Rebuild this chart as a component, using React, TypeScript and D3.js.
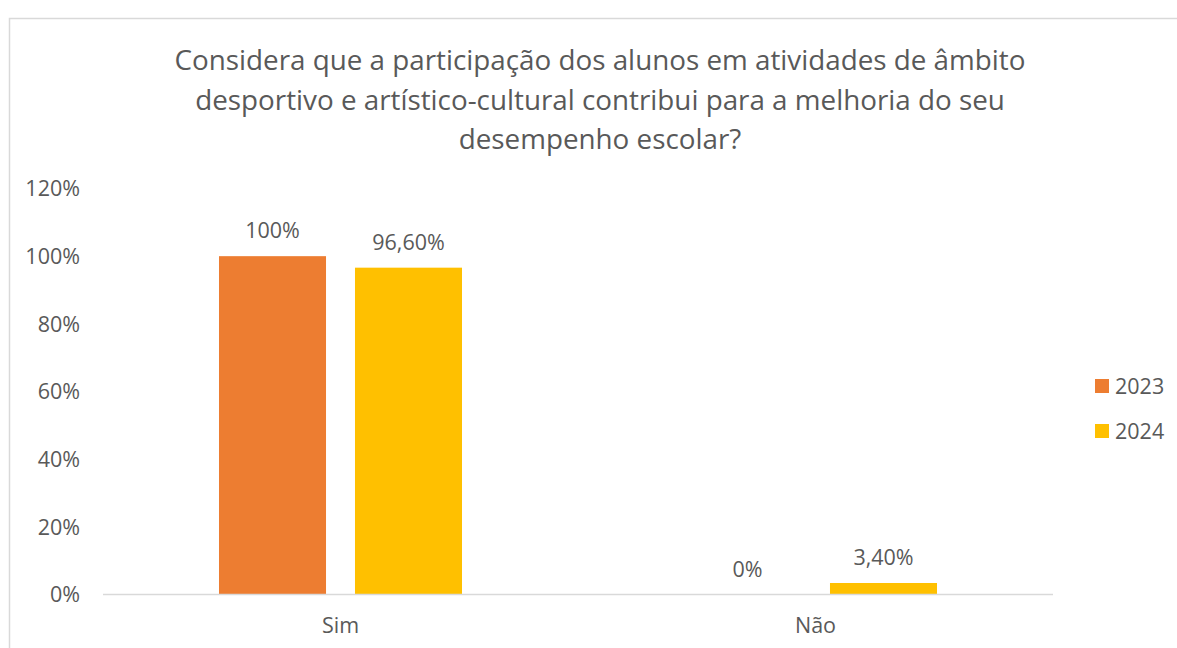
import React from "react";
import * as d3 from "d3";

const title = [
  "Considera que a participação dos alunos em atividades de âmbito",
  "desportivo e artístico-cultural contribui para a melhoria do seu",
  "desempenho escolar?",
];
const categories = ["Sim", "Não"];
const seriesNames = ["2023", "2024"];
const values2023 = [1.0, 0.0];
const values2024 = [0.966, 0.034];
const labels2023 = ["100%", "0%"];
const labels2024 = ["96,60%", "3,40%"];
const yTicks = [0, 0.2, 0.4, 0.6, 0.8, 1.0, 1.2];
const colors = ["#ED7D31", "#FFC000"];

const W = 1177;
const H = 648;
const FONT = "'Open Sans', sans-serif";
const TEXT = "#595959";

export default function App() {
  const plotLeft = 103;
  const plotRight = 1053;
  const y = d3.scaleLinear().domain([0, 1.2]).range([594.5, 188.5]);
  const x0 = d3.scaleBand<string>().domain(categories).range([plotLeft, plotRight]).padding(0);
  const x1 = d3
    .scaleBand<string>()
    .domain(seriesNames)
    .range([0, x0.bandwidth()])
    .paddingInner(0.213)
    .paddingOuter(0.853);
  const series = [
    { name: seriesNames[0], values: values2023, labels: labels2023, color: colors[0] },
    { name: seriesNames[1], values: values2024, labels: labels2024, color: colors[1] },
  ];
  const pct = d3.format(".0%");
  const fs = 21.5;

  return (
    <div style={{ position: "absolute", left: 0, top: 0 }}>
      <svg width={W} height={H} style={{ display: "block", fontFamily: FONT }}>
        <rect x={0} y={0} width={W} height={H} fill="#fff" />
        <rect x={9.5} y={18.5} width={1190} height={650} fill="#fff" stroke="#d9d9d9" strokeWidth={1.5} />
        {title.map((t, i) => (
          <text key={i} x={600} y={70 + i * 39.5} textAnchor="middle" fontSize={27.8} fill={TEXT}>
            {t}
          </text>
        ))}
        {yTicks.map((t) => (
          <text key={t} x={80} y={y(t) + 7.8} textAnchor="end" fontSize={fs} fill={TEXT}>
            {pct(t)}
          </text>
        ))}
        {series.map((s) =>
          categories.map((c, i) => {
            const bx = (x0(c) as number) + (x1(s.name) as number);
            const bw = x1.bandwidth();
            return (
              <g key={s.name + c}>
                {s.values[i] > 0 && (
                  <rect x={bx} y={y(s.values[i])} width={bw} height={y(0) - y(s.values[i])} fill={s.color} />
                )}
                <text x={bx + bw / 2} y={y(s.values[i]) - 18} textAnchor="middle" fontSize={fs} fill={TEXT}>
                  {s.labels[i]}
                </text>
              </g>
            );
          })
        )}
        <line x1={plotLeft} x2={plotRight} y1={y(0)} y2={y(0)} stroke="#d9d9d9" strokeWidth={1.5} />
        {categories.map((c) => (
          <text key={c} x={(x0(c) as number) + x0.bandwidth() / 2} y={633} textAnchor="middle" fontSize={fs} fill={TEXT}>
            {c}
          </text>
        ))}
        {series.map((s, i) => (
          <g key={s.name}>
            <rect x={1095} y={379 + i * 45} width={14} height={14} fill={s.color} />
            <text x={1115} y={393.8 + i * 45} fontSize={fs} fill={TEXT}>
              {s.name}
            </text>
          </g>
        ))}
      </svg>
    </div>
  );
}
